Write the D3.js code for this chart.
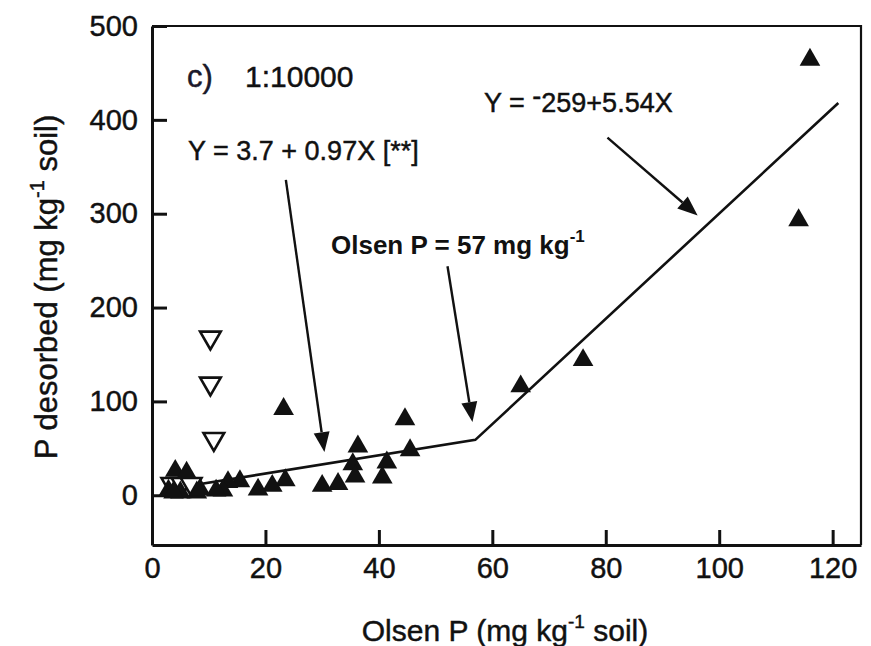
<!DOCTYPE html>
<html>
<head>
<meta charset="utf-8">
<script src="https://cdn.jsdelivr.net/npm/d3@7"></script>
<style>
  body { margin: 0; background: #fff; }
  svg text { font-family: "Liberation Sans", Arial, sans-serif; fill: #111; stroke: #111; stroke-width: 0.45px; }
</style>
</head>
<body>
<div id="chart"></div>
<script>
// values
var filledX = [116, 114, 76, 65, 23.2, 44.6, 36.3, 45.5, 41.4, 35.4, 35.8, 40.6, 32.8, 30, 23.5, 21.2, 18.7, 15.5, 13.4, 12.5, 11.3, 4.1, 6.1, 2.9, 5, 7.9, 8.5, 3.8];
var filledY = [464, 293, 144, 116, 92, 81, 52, 48, 35, 33, 20, 19, 12, 10, 16, 10, 6, 15, 14, 5, 5, 26, 24, 5, 3, 3, 6, 3];

var openX = [10.3, 10.3, 10.9, 3.5, 5.3, 6.9];
var openY = [168, 119, 60, 12, 12, 12];

// broken-stick fit
var fitX = [3, 57, 121];
var fitY = [6.6, 59, 418];

var xMajor = [0, 20, 40, 60, 80, 100, 120];
var xMinor = [10, 30, 50, 70, 90, 110];
var yMajor = [0, 100, 200, 300, 400, 500];
var yMinor = [50, 150, 250, 350, 450];

var width = 871, height = 646;
var margin = {top: 26, right: 10, bottom: 101, left: 152};

var svg = d3.select("#chart").append("svg")
    .attr("width", width)
    .attr("height", height);

var x = d3.scaleLinear().domain([0, 125]).range([margin.left, width - margin.right]);
var y = d3.scaleLinear().domain([-53, 500]).range([height - margin.bottom, margin.top]);

// frame (top + right)
svg.append("path")
    .attr("d", "M" + x(0) + "," + y(500) + "H" + x(125) + "V" + y(-53))
    .attr("fill", "none")
    .attr("stroke", "#111")
    .attr("stroke-width", 2.2);

// axes, ticks pointing inward
var xAxis = d3.axisBottom(x).tickValues(xMajor).tickSize(-15).tickSizeOuter(0).tickPadding(12);
var xAxisMinor = d3.axisBottom(x).tickValues(xMinor).tickSize(-11).tickSizeOuter(0).tickFormat("");
var yAxis = d3.axisLeft(y).tickValues(yMajor).tickSize(-15).tickSizeOuter(0).tickPadding(14);
var yAxisMinor = d3.axisLeft(y).tickValues(yMinor).tickSize(-11).tickSizeOuter(0).tickFormat("");

var gx = svg.append("g").attr("transform", "translate(0," + y(-53) + ")");
gx.call(xAxisMinor);
gx.call(xAxis);
var gy = svg.append("g").attr("transform", "translate(" + x(0) + ",0)");
gy.call(yAxisMinor);
gy.call(yAxis);

svg.selectAll(".domain").attr("stroke", "#111").attr("stroke-width", 3);
svg.selectAll(".tick line").attr("stroke", "#111").attr("stroke-width", 3);
svg.selectAll(".tick text")
    .style("font-size", "29px")
    .style("font-family", "Liberation Sans, Arial, sans-serif")
    .attr("fill", "#111");

// fitted line
var line = d3.line()
    .x(function(d) { return x(d[0]); })
    .y(function(d) { return y(d[1]); });

svg.append("path")
    .datum(d3.zip(fitX, fitY))
    .attr("d", line)
    .attr("fill", "none")
    .attr("stroke", "#111")
    .attr("stroke-width", 2.6);

// points (open ones first so the cluster near zero stays mostly dark)
var tri = d3.symbol(d3.symbolTriangle).size(185);

svg.append("g").selectAll("path")
    .data(d3.zip(openX, openY))
    .enter().append("path")
    .attr("d", tri)
    .attr("transform", function(d) { return "translate(" + x(d[0]) + "," + y(d[1]) + ") rotate(180)"; })
    .attr("fill", "#fff")
    .attr("stroke", "#111")
    .attr("stroke-width", 2.6);

svg.append("g").selectAll("path")
    .data(d3.zip(filledX, filledY))
    .enter().append("path")
    .attr("d", tri)
    .attr("transform", function(d) { return "translate(" + x(d[0]) + "," + y(d[1]) + ")"; })
    .attr("fill", "#111");

// arrows
var arrows = [
  {x1: 23.6, y1: 336, x2: 30.4, y2: 46},
  {x1: 52.1, y1: 244, x2: 56.5, y2: 78},
  {x1: 80.3, y1: 381, x2: 96.2, y2: 298}
];

arrows.forEach(function(a) {
  var px1 = x(a.x1), py1 = y(a.y1), px2 = x(a.x2), py2 = y(a.y2);
  var ang = Math.atan2(py2 - py1, px2 - px1);
  var len = 20, half = 8;
  var bx = px2 - len * Math.cos(ang), by = py2 - len * Math.sin(ang);
  svg.append("line")
      .attr("x1", px1).attr("y1", py1)
      .attr("x2", bx).attr("y2", by)
      .attr("stroke", "#111")
      .attr("stroke-width", 2.4);
  svg.append("path")
      .attr("d", "M" + px2 + "," + py2 +
                 "L" + (bx + half * Math.sin(ang)) + "," + (by - half * Math.cos(ang)) +
                 "L" + (bx - half * Math.sin(ang)) + "," + (by + half * Math.cos(ang)) + "Z")
      .attr("fill", "#111");
});

// annotations
svg.append("text")
    .attr("x", 187).attr("y", 87)
    .style("font-size", "31px")
    .style("fill", "#1c1a30")
    .text("c)");

svg.append("text")
    .attr("x", 245).attr("y", 87)
    .style("font-size", "30px")
    .text("1:10000");

var eq2 = svg.append("text")
    .attr("x", 484).attr("y", 112)
    .style("font-size", "27px");
eq2.append("tspan").text("Y = ");
eq2.append("tspan").attr("dy", -7).text("-");
eq2.append("tspan").attr("dy", 7).text("259+5.54X");

svg.append("text")
    .attr("x", 188).attr("y", 160)
    .style("font-size", "27px")
    .text("Y = 3.7 + 0.97X [**]");

var olsen = svg.append("text")
    .attr("x", 331).attr("y", 254)
    .style("font-size", "26px")
    .style("font-weight", "bold")
    .style("stroke-width", "0px");
olsen.append("tspan").text("Olsen P = 57 mg kg");
olsen.append("tspan").attr("dy", -12).style("font-size", "17px").text("-1");

// axis titles
var xt = svg.append("text")
    .attr("x", 505).attr("y", 641)
    .attr("text-anchor", "middle")
    .style("font-size", "30px");
xt.append("tspan").text("Olsen P (mg kg");
xt.append("tspan").attr("dy", -13).style("font-size", "19px").text("-1");
xt.append("tspan").attr("dy", 13).text(" soil)");

var yt = svg.append("text")
    .attr("transform", "translate(57,287) rotate(-90)")
    .attr("text-anchor", "middle")
    .style("font-size", "31px");
yt.append("tspan").text("P desorbed (mg kg");
yt.append("tspan").attr("dy", -13).style("font-size", "20px").text("-1");
yt.append("tspan").attr("dy", 13).text(" soil)");
</script>
</body>
</html>
